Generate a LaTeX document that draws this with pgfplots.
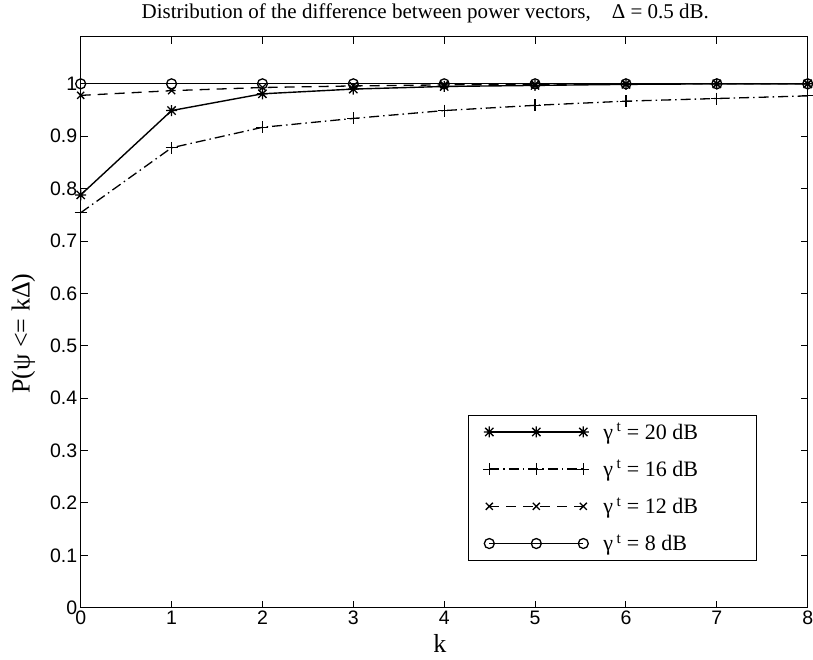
\documentclass[border=0pt]{standalone}
\usepackage{pgfplots}
\pgfplotsset{compat=1.18}
\usepackage{fontspec}
\setmainfont{Liberation Serif}
\setsansfont{Liberation Sans}

% MATLAB-style '*' marker: a plus and a cross on top of each other
\pgfdeclareplotmark{mstar}{%
	\pgfpathmoveto{\pgfqpoint{-\pgfplotmarksize}{0pt}}%
	\pgfpathlineto{\pgfqpoint{\pgfplotmarksize}{0pt}}%
	\pgfpathmoveto{\pgfqpoint{0pt}{-\pgfplotmarksize}}%
	\pgfpathlineto{\pgfqpoint{0pt}{\pgfplotmarksize}}%
	\pgfpathmoveto{\pgfqpoint{-0.75\pgfplotmarksize}{-0.75\pgfplotmarksize}}%
	\pgfpathlineto{\pgfqpoint{0.75\pgfplotmarksize}{0.75\pgfplotmarksize}}%
	\pgfpathmoveto{\pgfqpoint{-0.75\pgfplotmarksize}{0.75\pgfplotmarksize}}%
	\pgfpathlineto{\pgfqpoint{0.75\pgfplotmarksize}{-0.75\pgfplotmarksize}}%
	\pgfusepathqstroke}

\begin{document}
\begin{tikzpicture}
	\begin{axis}[
		name=ax,
		scale only axis,
		width=727pt,
		height=571pt,
		xmin=0, xmax=8,
		ymin=0, ymax=1.09,
		xtick={0,1,2,3,4,5,6,7,8},
		ytick={0,0.1,0.2,0.3,0.4,0.5,0.6,0.7,0.8,0.9,1},
		tick align=inside,
		major tick length=7pt,
		axis line style={line width=1.2pt},
		every tick/.style={black, line width=1pt},
		/pgf/number format/assume math mode=true,
		ticklabel style={font=\sffamily\fontsize{19.5}{19.5}\selectfont},
		title={Distribution of the difference between power vectors,\quad Δ = 0.5 dB.},
		title style={font=\fontsize{21}{21}\selectfont, at={(axis description cs:0.474,1)}, anchor=base, yshift=12pt},
		xlabel={k},
		xlabel style={font=\fontsize{26}{26}\selectfont, at={(axis description cs:0.494,-0.062)}, anchor=center},
		ylabel={P(ψ <= kΔ)},
		ylabel style={font=\fontsize{26}{26}\selectfont, at={(axis description cs:-0.079,0.48)}, anchor=center},
		legend style={at={(0.93,0.082)}, anchor=south east, draw=black, line width=1pt,
			font=\fontsize{22}{22}\selectfont, inner xsep=15pt, inner ysep=6pt, row sep=15.5pt,
			column sep=12pt},
		legend cell align=left,
		legend image code/.code={\draw[#1] plot coordinates {(0pt,0pt) (47pt,0pt) (94pt,0pt)};},
		clip=false,
		]
		\addplot[black, line width=1.4pt, mark=mstar, mark size=5.5pt, mark options={solid, line width=1.3pt}]
			coordinates {(0,0.788)(1,0.949)(2,0.981)(3,0.990)(4,0.995)(5,0.997)(6,0.999)(7,1.0)(8,1.0)};
		\addlegendentry{\makebox[136pt][l]{γ\,\textsuperscript{t} = 20 dB}}
		\addplot[black, line width=1.3pt, dash pattern=on 10pt off 4pt on 1.5pt off 4pt, mark=+, mark size=6pt, mark options={solid, line width=1.2pt}]
			coordinates {(0,0.754)(1,0.878)(2,0.917)(3,0.934)(4,0.949)(5,0.959)(6,0.967)(7,0.972)(8,0.977)};
		\addlegendentry{\makebox[136pt][l]{γ\,\textsuperscript{t} = 16 dB}}
		\addplot[black, line width=1.3pt, dash pattern=on 10pt off 7pt, mark=x, mark size=5pt, mark options={solid, line width=1.3pt}]
			coordinates {(0,0.978)(1,0.987)(2,0.993)(3,0.996)(4,0.998)(5,0.999)(6,1.0)(7,1.0)(8,1.0)};
		\addlegendentry{\makebox[136pt][l]{γ\,\textsuperscript{t} = 12 dB}}
		\addplot[black, line width=1.3pt, mark=o, mark size=5pt, mark options={solid, line width=1.3pt}]
			coordinates {(0,1.0)(1,1.0)(2,1.0)(3,1.0)(4,1.0)(5,1.0)(6,1.0)(7,1.0)(8,1.0)};
		\addlegendentry{\makebox[136pt][l]{γ\,\textsuperscript{t} = 8 dB}}
	\end{axis}
	\pgfresetboundingbox
	\path ([shift={(-80.7pt,-51.3pt)}]ax.south west) rectangle ([shift={(5.3pt,36.7pt)}]ax.north east);
\end{tikzpicture}
\end{document}
